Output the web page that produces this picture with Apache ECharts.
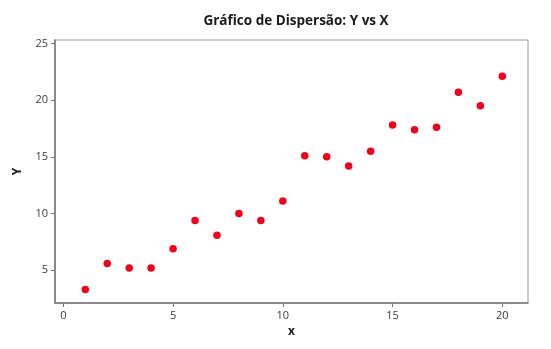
<!DOCTYPE html>
<html>
<head>
<meta charset="utf-8">
<script src="https://cdn.jsdelivr.net/npm/echarts@6/dist/echarts.min.js"></script>
<style>html,body{margin:0;padding:0;background:#fff;}#c{width:551px;height:349px;}</style>
</head>
<body>
<div id="c"></div>
<script>
const xValues = [1,2,3,4,5,6,7,8,9,10,11,12,13,14,15,16,17,18,19,20];
const yValues = [3.3,5.6,5.2,5.2,6.9,9.4,8.1,10.0,9.4,11.1,15.1,15.0,14.2,15.5,17.8,17.4,17.6,20.7,19.5,22.1];
const xTicks = [0,5,10,15,20];
const yTicks = [5,10,15,20,25];
const titleText = 'Gráfico de Dispersão: Y vs X';

const chart = echarts.init(document.getElementById('c'), null, {renderer:'canvas'});
const font = "'Open Sans', 'DejaVu Sans', sans-serif";
chart.setOption({
  animation:false,
  backgroundColor:'#fff',
  title:{text:titleText,left:291,top:9,textAlign:'center',textStyle:{fontFamily:font,fontWeight:'bold',fontSize:13.5,color:'#1a1a1a'}},
  grid:{left:55,right:23,top:40,bottom:46,show:true,borderColor:'#999',borderWidth:1,backgroundColor:'#fff'},
  xAxis:{type:'value',min:-0.38,max:21.17,name:'x',nameLocation:'middle',nameGap:22,
    nameTextStyle:{fontFamily:font,fontWeight:'bold',fontSize:12,color:'#222'},
    axisLine:{show:true,onZero:false,lineStyle:{color:'#777',width:1.5}},
    axisTick:{show:true,customValues:xTicks,length:4,lineStyle:{color:'#777'}},
    axisLabel:{customValues:xTicks,fontFamily:font,fontSize:11,color:'#3a3a3a',margin:7},
    splitLine:{show:false}},
  yAxis:{type:'value',min:2.12,max:25.3,name:'Y',nameLocation:'middle',nameGap:31,nameRotate:90,
    nameTextStyle:{fontFamily:font,fontWeight:'bold',fontSize:12,color:'#222'},
    axisLine:{show:true,onZero:false,lineStyle:{color:'#777',width:1.5}},
    axisTick:{show:true,customValues:yTicks,length:4,lineStyle:{color:'#777'}},
    axisLabel:{customValues:yTicks,fontFamily:font,fontSize:11,color:'#3a3a3a',margin:7},
    splitLine:{show:false}},
  series:[{type:'scatter',symbol:'circle',symbolSize:7.5,
    itemStyle:{color:'#f0001c',opacity:1},
    data:xValues.map((x,i)=>[x,yValues[i]])}]
});
</script>
</body>
</html>
